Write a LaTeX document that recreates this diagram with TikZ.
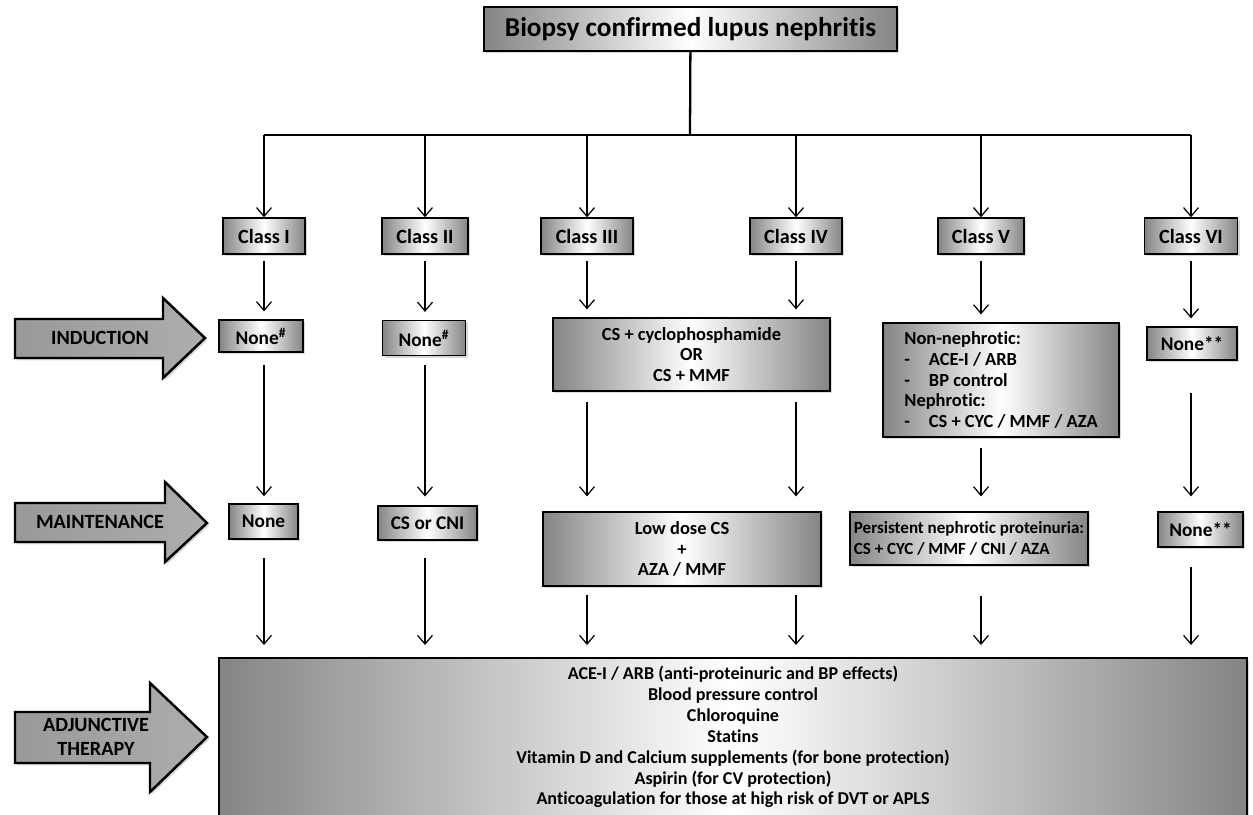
\documentclass[tikz,border=0pt]{standalone}
\usepackage{fontspec}
\setmainfont{Carlito}[Ligatures=NoCommon]
\usetikzlibrary{arrows.meta,shadows}

\tikzset{
  box/.style={draw, line width=0.8pt, left color=black!48, right color=black!48, middle color=white,
    drop shadow={shadow xshift=1.3pt, shadow yshift=-1.3pt, opacity=0.3},
    font=\bfseries\fontsize{11}{13}\selectfont, inner sep=1pt},
  clsbox/.style={box, minimum height=0.72cm, font=\bfseries\fontsize{11.5}{13}\selectfont},
  txtbox/.style={box, font=\bfseries\fontsize{10.5}{11.7}\selectfont},
  bigarrow/.style={draw, line width=1.4pt, left color=black!40, middle color=black!3, right color=black!32,
    drop shadow={shadow xshift=1.3pt, shadow yshift=-1.3pt, opacity=0.3}},
  lbl/.style={font=\bfseries\fontsize{11.5}{13.5}\selectfont, align=center},
  arr/.style={-{Straight Barb[length=5pt,width=8.5pt]}, line width=0.7pt}
}

\begin{document}
\begin{tikzpicture}[x=0.02cm, y=-0.02cm]
  \useasboundingbox (0,0) rectangle (1253,814);

  % title and bus
  \node[box, minimum width=8.26cm, minimum height=0.88cm, font=\bfseries\fontsize{15.5}{18}\selectfont]
    (title) at (690.5,29) {Biopsy confirmed lupus nephritis};
  \coordinate (bus) at (690,135);

  % classes
  \node[clsbox, minimum width=1.64cm] (cls1) at (264,236) {Class I};
  \node[clsbox, minimum width=1.72cm] (cls2) at (425,236) {Class II};
  \node[clsbox, minimum width=1.84cm] (cls3) at (587,236) {Class III};
  \node[clsbox, minimum width=1.84cm] (cls4) at (796,236) {Class IV};
  \node[clsbox, minimum width=1.72cm] (cls5) at (981,236) {Class V};
  \node[clsbox, minimum width=1.86cm] (cls6) at (1191,236) {Class VI};

  % induction
  \node[box, minimum width=1.68cm, minimum height=0.64cm] (ind1) at (261,336) {None\textsuperscript{\#}};
  \node[box, minimum width=1.66cm, minimum height=0.70cm] (ind2) at (424,338) {None\textsuperscript{\#}};
  \node[txtbox, minimum width=5.54cm, minimum height=1.46cm, align=center] (ind34) at (691.5,354.5)
    {CS + cyclophosphamide\\OR\\CS + MMF};
  \node[txtbox, minimum width=4.72cm, minimum height=2.28cm, align=left] (ind5) at (1001,380)
    {Non-nephrotic:\\\makebox[14pt][l]{-}ACE-I / ARB\\\makebox[14pt][l]{-}BP control\\
     Nephrotic:\\\makebox[14pt][l]{-}CS + CYC / MMF / AZA};
  \node[box, minimum width=1.80cm, minimum height=0.66cm] (ind6) at (1192,343.5) {None**};

  % maintenance
  \node[box, minimum width=1.38cm, minimum height=0.70cm] (mnt1) at (263.5,521.5) {None};
  \node[box, minimum width=1.98cm, minimum height=0.68cm] (mnt2) at (427.5,523) {CS or CNI};
  \node[txtbox, minimum width=5.56cm, minimum height=1.48cm, align=center] (mnt34) at (682,549)
    {Low dose CS\\+\\AZA / MMF};
  \node[txtbox, minimum width=4.76cm, minimum height=1.06cm, align=left,
    font=\bfseries\fontsize{9.7}{11.7}\selectfont] (mnt5) at (969,538.5)
    {Persistent nephrotic proteinuria:\\CS + CYC / MMF / CNI / AZA};
  \node[box, minimum width=1.70cm, minimum height=0.70cm] (mnt6) at (1200.5,529.5) {None**};

  % adjunctive therapy
  \node[txtbox, minimum width=20.56cm, minimum height=3.16cm, align=center,
    font=\bfseries\fontsize{10.3}{11.9}\selectfont] (adj) at (733,737)
    {ACE-I / ARB (anti-proteinuric and BP effects)\\Blood pressure control\\Chloroquine\\Statins\\
     Vitamin D and Calcium supplements (for bone protection)\\Aspirin (for CV protection)\\
     Anticoagulation for those at high risk of DVT or APLS};

  % big arrows on the left
  \draw[bigarrow] (15,319) -- (163,319) -- (163,298) -- (205,338) -- (163,378) -- (163,358) -- (15,358) -- cycle;
  \draw[bigarrow] (15,503) -- (165,503) -- (165,482) -- (207,523) -- (165,562) -- (165,542) -- (15,542) -- cycle;
  \draw[bigarrow] (15,712) -- (150,712) -- (150,683) -- (207,737) -- (150,792) -- (150,763) -- (15,763) -- cycle;
  \node[lbl] (induct) at (100,338) {INDUCTION};
  \node[lbl] (maint) at (100,522) {MAINTENANCE};
  \node[lbl] (adjunct) at (96,737) {ADJUNCTIVE\\THERAPY};

  % connectors
  \draw[line width=1.3pt] (title) -- (bus);
  \draw[line width=0.8pt] (cls1.north |- bus) -- (cls6.north |- bus);
  \foreach \c in {1,...,6}
    \draw[arr] (cls\c.north |- bus) -- (cls\c.north);

  \foreach \c/\b in {1/ind1, 2/ind2, 3/ind34, 4/ind34, 5/ind5, 6/ind6}
    \draw[arr, shorten <=3.5pt, shorten >=4.5pt] (cls\c.south) -- (cls\c.south |- \b.north);

  \foreach \c/\a/\b/\s/\e in {1/ind1/mnt1/7pt/4pt, 2/ind2/mnt2/5pt/5pt, 3/ind34/mnt34/6pt/8.5pt,
      4/ind34/mnt34/6pt/8.5pt, 5/ind5/mnt5/6pt/8.5pt, 6/ind6/mnt6/18.5pt/8.5pt}
    \draw[arr, shorten <=\s, shorten >=\e] (cls\c.south |- \a.south) -- (cls\c.south |- \b.north);

  \foreach \c/\a/\s in {1/mnt1/10.5pt, 2/mnt2/10pt, 3/mnt34/5pt, 4/mnt34/5pt, 5/mnt5/17pt, 6/mnt6/11pt}
    \draw[arr, shorten <=\s, shorten >=7pt] (cls\c.south |- \a.south) -- (cls\c.south |- adj.north);

\end{tikzpicture}
\end{document}
